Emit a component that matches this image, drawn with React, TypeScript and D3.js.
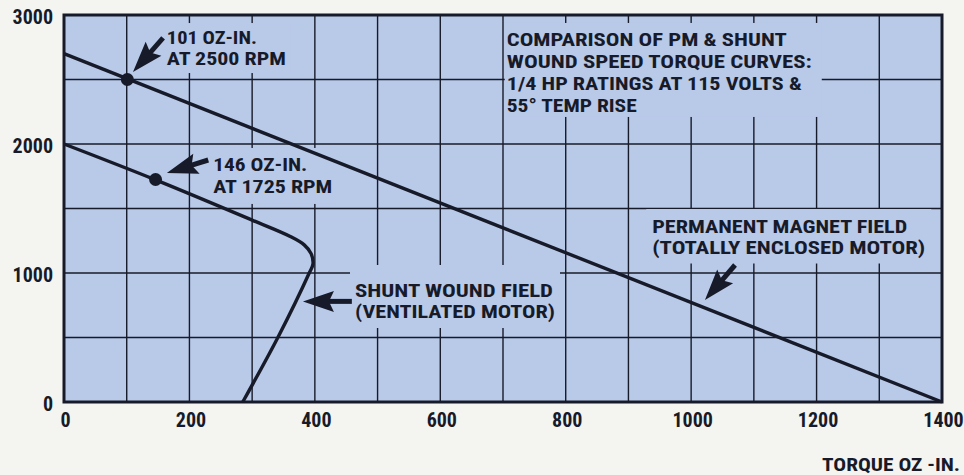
import React, { useEffect, useRef } from 'react';
import * as d3 from 'd3';

// speed (rpm) vs torque (oz-in) data
const pmTorque = [0, 1400];
const pmSpeed = [2700, 0];
const shuntTorque = [0, 146, 300, 360, 383, 394, 397, 391, 341, 285];
const shuntSpeed = [2000, 1722, 1410, 1285, 1218, 1150, 1070, 1000, 500, 0];
const ratedTorque = [101, 146];
const ratedSpeed = [2500, 1725];

const torqueTicks = [0, 200, 400, 600, 800, 1000, 1200, 1400];
const speedTicks = [0, 1000, 2000, 3000];
const torqueGrid = [100, 200, 300, 400, 500, 600, 700, 800, 900, 1000, 1100, 1200, 1300];
const speedGrid = [500, 1000, 1500, 2000, 2500];

const titleLines = [
  'COMPARISON OF PM & SHUNT',
  'WOUND SPEED TORQUE CURVES:',
  '1/4 HP RATINGS AT 115 VOLTS &',
  '55\u00b0 TEMP RISE',
];
const xTitle = 'TORQUE OZ -IN.';

// annotation blocks, anchored in data units (torque, speed)
const notes = [
  { at: [164, 2775], lines: ['101 OZ-IN.', 'AT 2500 RPM'], widths: [90, 119], lh: 21, size: 18.5, pad: [4, 5, 21, 8] },
  { at: [238, 1791], lines: ['146 OZ-IN.', 'AT 1725 RPM'], widths: [94, 119], lh: 22, size: 19, pad: [4, 5, 23, 11] },
  { at: [464, 814], lines: ['SHUNT WOUND FIELD', '(VENTILATED MOTOR)'], widths: [198, 200], lh: 21, size: 18.5, pad: [5, 5, 32, 10] },
  { at: [938, 1310], lines: ['PERMANENT MAGNET FIELD', '(TOTALLY ENCLOSED MOTOR)'], widths: [255, 273], lh: 20.5, size: 18, pad: [6, 6, 24, 10] },
  { at: [706, 2760], lines: titleLines, widths: [280, 305, 295, 130], lh: 22, size: 19, pad: [2, 10, 23, 5] },
];

const arrows = [
  { tip: [110, 2558], tail: [158, 2822] },
  { tip: [164, 1775], tail: [230, 1876] },
  { tip: [381, 780], tail: [459, 780] },
  { tip: [1022, 791], tail: [1070, 1062] },
];

const FONT = "'Liberation Sans Narrow', 'Arial Narrow', 'Roboto Condensed', 'Liberation Sans', sans-serif";
const INK = '#171b29';
const FILL = '#b9c9e8';

const App = () => {
  const ref = useRef<SVGSVGElement>(null);

  useEffect(() => {
    const width = 964;
    const height = 475;
    const svg = d3.select(ref.current);
    svg.selectAll('*').remove();

    const x = d3.scaleLinear().domain([0, 1400]).range([64, 942]);
    const y = d3.scaleLinear().domain([0, 3000]).range([402, 15]);

    svg.append('rect').attr('width', width).attr('height', height).attr('fill', '#f4f4f1');

    // plot background
    svg.append('rect')
      .attr('x', x(0)).attr('y', y(3000))
      .attr('width', x(1400) - x(0)).attr('height', y(0) - y(3000))
      .attr('fill', FILL);

    // grid
    const grid = svg.append('g').attr('stroke', INK).attr('stroke-width', 1.4);
    grid.selectAll('line.v').data(torqueGrid).enter().append('line')
      .attr('x1', (d) => x(d)).attr('x2', (d) => x(d))
      .attr('y1', y(0)).attr('y2', y(3000));
    grid.selectAll('line.h').data(speedGrid).enter().append('line')
      .attr('y1', (d) => y(d)).attr('y2', (d) => y(d))
      .attr('x1', x(0)).attr('x2', x(1400));

    // background boxes behind annotation text
    notes.forEach((n) => {
      const ax = x(n.at[0]);
      const ay = y(n.at[1]);
      const w = Math.max(...n.widths);
      const [pl, pr, pt, pb] = n.pad;
      svg.append('rect')
        .attr('x', ax - pl).attr('y', ay - pt)
        .attr('width', w + pl + pr)
        .attr('height', pt + (n.lines.length - 1) * n.lh + pb)
        .attr('fill', FILL);
    });

    // frame
    svg.append('rect')
      .attr('x', x(0)).attr('y', y(3000))
      .attr('width', x(1400) - x(0)).attr('height', y(0) - y(3000))
      .attr('fill', 'none').attr('stroke', INK).attr('stroke-width', 3);

    // curves
    const pmLine = d3.line<number>().x((d) => x(d)).y((d, i) => y(pmSpeed[i]));
    svg.append('path')
      .attr('d', pmLine(pmTorque))
      .attr('fill', 'none').attr('stroke', INK).attr('stroke-width', 3.4);

    const shuntLine = d3.line<number>()
      .x((d) => x(d)).y((d, i) => y(shuntSpeed[i]))
      .curve(d3.curveCatmullRom.alpha(0.5));
    svg.append('path')
      .attr('d', shuntLine(shuntTorque))
      .attr('fill', 'none').attr('stroke', INK).attr('stroke-width', 3.4)
      .attr('stroke-linejoin', 'round');

    svg.selectAll('circle.rated').data(ratedTorque).enter().append('circle')
      .attr('cx', (d) => x(d)).attr('cy', (d, i) => y(ratedSpeed[i]))
      .attr('r', 6.5).attr('fill', INK);

    // arrows
    arrows.forEach((a) => {
      const tx = x(a.tip[0]), ty = y(a.tip[1]);
      const sx = x(a.tail[0]), sy = y(a.tail[1]);
      const ang = Math.atan2(ty - sy, tx - sx);
      const headLen = 26, half = 10.5;
      const bx = tx - headLen * Math.cos(ang), by = ty - headLen * Math.sin(ang);
      const nx = -Math.sin(ang), ny = Math.cos(ang);
      svg.append('line')
        .attr('x1', sx).attr('y1', sy).attr('x2', bx + 4 * Math.cos(ang)).attr('y2', by + 4 * Math.sin(ang))
        .attr('stroke', INK).attr('stroke-width', 5);
      const nb = 5;
      svg.append('path')
        .attr('d', `M${tx},${ty}L${bx + half * nx - nb * Math.cos(ang)},${by + half * ny - nb * Math.sin(ang)}L${bx},${by}L${bx - half * nx - nb * Math.cos(ang)},${by - half * ny - nb * Math.sin(ang)}Z`)
        .attr('fill', INK);
    });

    // annotation text
    notes.forEach((n) => {
      const t = svg.append('text')
        .attr('font-family', FONT).attr('font-weight', 'bold')
        .attr('font-size', n.size).attr('fill', INK);
      n.lines.forEach((line, i) => {
        t.append('tspan')
          .attr('x', x(n.at[0])).attr('y', y(n.at[1]) + i * n.lh)
          .attr('textLength', n.widths[i]).attr('lengthAdjust', 'spacingAndGlyphs')
          .text(line);
      });
    });

    // axes
    const xAxis = svg.append('g')
      .attr('transform', `translate(1,${y(0)})`)
      .call(d3.axisBottom(x).tickValues(torqueTicks).tickSize(0).tickPadding(11).tickFormat(d3.format('d')));
    xAxis.select('.domain').remove();
    xAxis.selectAll('text')
      .attr('font-family', FONT).attr('font-weight', 'bold').attr('font-size', 20).attr('fill', INK);

    const yAxis = svg.append('g')
      .attr('transform', `translate(${x(0)},2)`)
      .call(d3.axisLeft(y).tickValues(speedTicks).tickSize(0).tickPadding(11).tickFormat(d3.format('d')));
    yAxis.select('.domain').remove();
    yAxis.selectAll('text')
      .attr('font-family', FONT).attr('font-weight', 'bold').attr('font-size', 20).attr('fill', INK);

    svg.append('text')
      .attr('x', 822).attr('y', 471)
      .attr('textLength', 138).attr('lengthAdjust', 'spacingAndGlyphs')
      .attr('font-family', FONT).attr('font-weight', 'bold').attr('font-size', 19).attr('fill', INK)
      .text(xTitle);
  }, []);

  return (
    <svg ref={ref} width={964} height={475} style={{ position: 'absolute', left: 0, top: 0 }} />
  );
};

export default App;
